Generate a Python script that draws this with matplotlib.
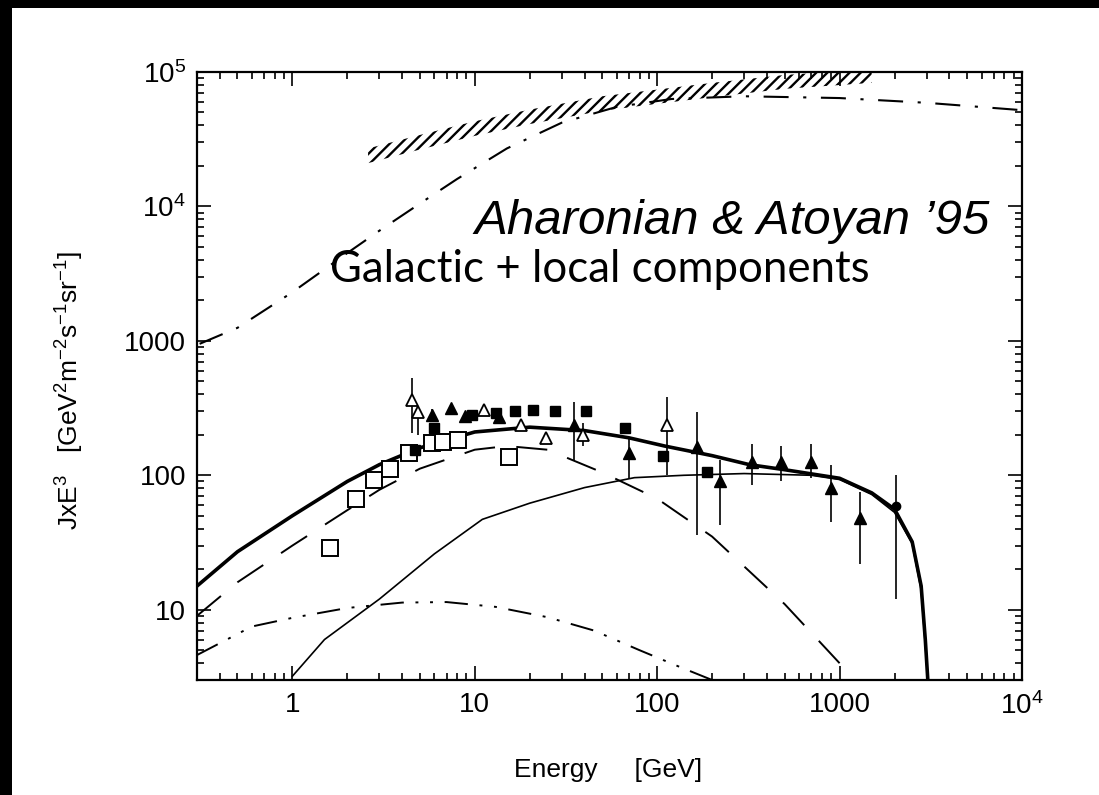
import numpy as np
import matplotlib
matplotlib.use("Agg")
import matplotlib.pyplot as plt
from matplotlib.patches import Rectangle

plt.rcParams['font.family'] = ['Liberation Sans', 'DejaVu Sans']
plt.rcParams['mathtext.fontset'] = 'custom'
plt.rcParams['mathtext.rm'] = 'Liberation Sans'
plt.rcParams['mathtext.it'] = 'Liberation Sans:italic'
plt.rcParams['hatch.linewidth'] = 1.7

# upper dash-dot curve
E_up = [0.31, 0.5, 1, 2, 3, 5, 8, 15, 30, 60, 120, 300, 1000, 3000, 10000]
J_up = [950, 1250, 2300, 4500, 6600, 10500, 16000, 27000, 42000, 55000, 63000, 66000, 64000, 59000, 52000]

# hatched band (upper limit region)
E_band = [2.6, 5, 10, 20, 50, 100, 200, 500, 1000, 1500]
band_lo = [21000, 26500, 33500, 41000, 51500, 58000, 65000, 75000, 80000, 83000]
band_hi = [27000, 34000, 43000, 52500, 66000, 74000, 83000, 95000, 101000, 104000]

# total (thick solid)
E_tot = [0.3, 0.5, 1, 2, 3, 5, 10, 20, 40, 70, 110, 200, 320, 500, 1000, 1500, 2000, 2500, 2800, 2950, 3050]
J_tot = [15, 27, 50, 90, 120, 160, 210, 228, 215, 190, 165, 140, 120, 110, 95, 74, 56, 32, 15, 6, 2.9]

# galactic (dashed)
E_gal = [0.3, 0.5, 1, 2, 3, 5, 10, 15, 25, 50, 100, 200, 500, 1000]
J_gal = [9, 16, 30, 55, 78, 112, 155, 165, 155, 105, 67, 35, 11, 4]

# local (thin solid)
E_loc = [1.0, 1.5, 3, 6, 11, 20, 40, 75, 140, 300, 700, 1000, 1500, 2000, 2500, 2800, 2950, 3050]
J_loc = [3.2, 6, 12, 26, 47, 62, 81, 96, 100, 103, 100, 93, 72, 53, 31, 14, 5.5, 2.9]

# dash-dot-dot curve
E_dd = [0.3, 0.6, 1, 2, 4, 7, 13, 25, 45, 80, 130, 200]
J_dd = [4.6, 7.5, 8.7, 10.3, 11.3, 11.4, 10.5, 8.8, 7.0, 5.0, 3.8, 3.0]

# open squares
E_osq = [1.6, 2.23, 2.8, 3.42, 4.34, 5.8, 6.7, 8.1, 15.4]
J_osq = [29, 67, 93, 112, 147, 174, 176, 184, 137]

# filled squares
E_fsq = [4.7, 6.0, 9.6, 13, 16.6, 20.8, 27.4, 40.5, 67, 107, 188]
J_fsq = [155, 225, 280, 290, 302, 305, 303, 302, 225, 140, 105]

# open triangles with errors
E_otr = [4.5, 4.9, 11.3, 17.9, 24.5, 39.4, 113]
J_otr = [364, 296, 305, 237, 190, 200, 237]
lo_otr = [207, 200, 290, 220, 175, 165, 100]
hi_otr = [525, 330, 320, 255, 205, 245, 380]

# filled triangles with errors
E_ftr = [5.8, 7.4, 8.8, 13.6, 35, 70, 165, 220, 330, 480, 700, 900, 1300]
J_ftr = [280, 315, 275, 270, 237, 147, 163, 90, 125, 125, 125, 80, 48]
lo_ftr = [250, 290, 255, 255, 127, 96, 36, 43, 85, 90, 95, 45, 22]
hi_ftr = [310, 340, 295, 285, 350, 193, 296, 130, 170, 165, 170, 120, 75]

# high energy point
E_hi = [2050]
J_hi = [59]
lo_hi = [12]
hi_hi = [100]

xtick_vals = [1, 10, 100, 1000, 10000]
xtick_labels = ['1', '10', '100', '1000', '$10^4$']
ytick_vals = [10, 100, 1000, 10000, 100000]
ytick_labels = ['10', '100', '1000', '$10^4$', '$10^5$']

fig = plt.figure(figsize=(10.99, 7.95), dpi=100)
fig.patch.set_facecolor('black')
fig.add_artist(Rectangle((12 / 1099, 0), 1087 / 1099, 787 / 795, transform=fig.transFigure,
                         facecolor='white', edgecolor='none', zorder=0))

ax = fig.add_axes([197 / 1099, 1 - 680 / 795, (1022 - 197) / 1099, (680 - 72) / 795])
ax.set_xscale('log')
ax.set_yscale('log')
ax.set_xlim(0.3, 1e4)
ax.set_ylim(3, 1e5)

ax.plot(E_up, J_up, color='black', lw=1.5, dashes=(12, 7, 1.5, 7))
ax.fill_between(E_band, band_lo, band_hi, facecolor='none', edgecolor='black',
                hatch='///', linewidth=0)
ax.plot(E_tot, J_tot, color='black', lw=2.6)
ax.plot(E_gal, J_gal, color='black', lw=1.4, dashes=(16, 11))
ax.plot(E_loc, J_loc, color='black', lw=1.2)
ax.plot(E_dd, J_dd, color='black', lw=1.4, dashes=(12, 6, 1.5, 6, 1.5, 6))

ax.plot(E_osq, J_osq, 's', ms=11, mfc='white', mec='black', mew=1.4)
ax.plot(E_fsq, J_fsq, 's', ms=6.5, mfc='black', mec='black')
ax.errorbar(E_otr, J_otr, yerr=[np.subtract(J_otr, lo_otr), np.subtract(hi_otr, J_otr)],
            fmt='^', ms=8, mfc='white', mec='black', mew=1.3, ecolor='black', elinewidth=1.2, capsize=0)
ax.errorbar(E_ftr, J_ftr, yerr=[np.subtract(J_ftr, lo_ftr), np.subtract(hi_ftr, J_ftr)],
            fmt='^', ms=8, mfc='black', mec='black', ecolor='black', elinewidth=1.2, capsize=0)
ax.errorbar(E_hi, J_hi, yerr=[np.subtract(J_hi, lo_hi), np.subtract(hi_hi, J_hi)],
            fmt='o', ms=6, mfc='black', mec='black', ecolor='black', elinewidth=1.2, capsize=0)

ax.set_xticks(xtick_vals)
ax.set_xticklabels(xtick_labels)
ax.set_yticks(ytick_vals)
ax.set_yticklabels(ytick_labels)
ax.tick_params(which='both', direction='in', top=True, right=True, width=1.2, labelsize=20)
ax.tick_params(which='major', length=10)
ax.tick_params(axis='x', which='major', pad=9)
ax.tick_params(axis='y', which='major', pad=8)
ax.tick_params(which='minor', length=5)
for s in ax.spines.values():
    s.set_linewidth(1.6)

fig.text(70 / 1099, 1 - 390 / 795, r'JxE$^3$   [GeV$^2$m$^{-2}$s$^{-1}$sr$^{-1}$]',
         rotation=90, ha='center', va='center', fontsize=19)
fig.text(608 / 1099, 1 - 770 / 795, 'Energy     [GeV]', ha='center', va='center', fontsize=19)

fig.text(990 / 1099, 1 - 222 / 795, 'Aharonian & Atoyan \u201995', ha='right', va='center',
         fontsize=35.5, style='italic')
fig.text(600 / 1099, 1 - 270 / 795, 'Galactic + local components', ha='center', va='center',
         fontsize=31.5, family=['Lato', 'DejaVu Sans'])

fig.savefig('out.png', dpi=100, facecolor=fig.get_facecolor())
